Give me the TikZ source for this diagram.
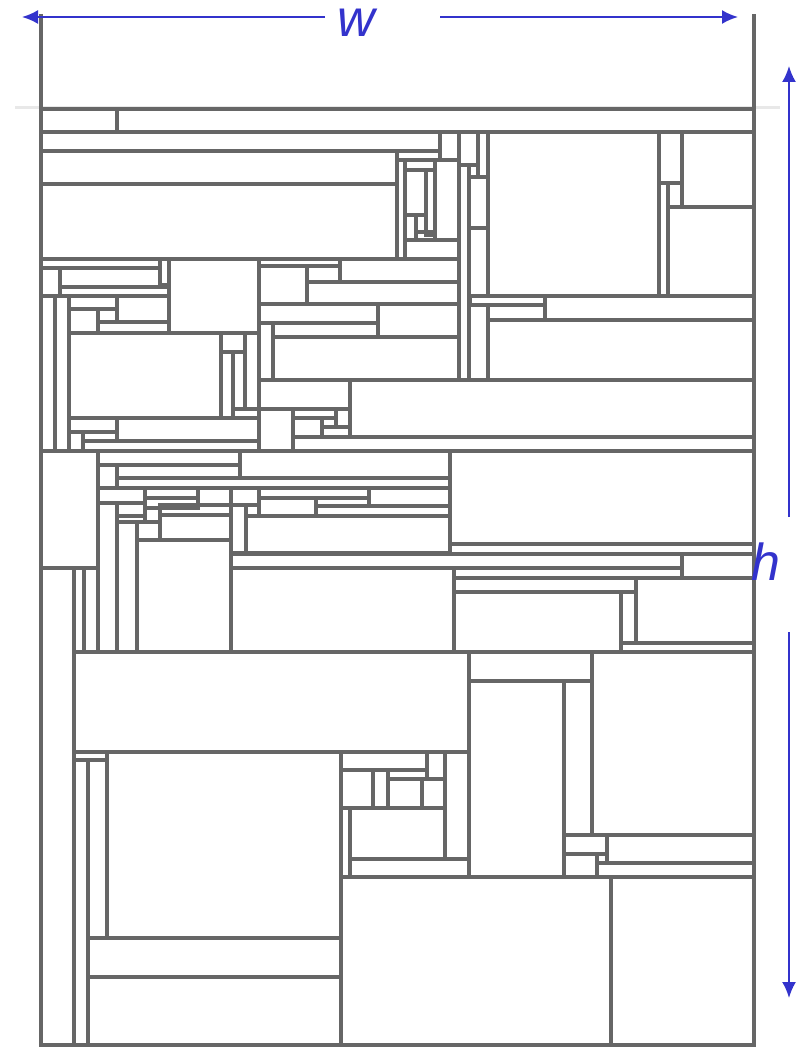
\documentclass[tikz,border=0pt]{standalone}
\usepackage{fontspec}
\setmainfont{Liberation Sans}
\usetikzlibrary{arrows.meta}
\definecolor{packgray}{HTML}{666666}
\definecolor{dimblue}{HTML}{3333CC}
\definecolor{guidegray}{HTML}{E8E8E8}

\begin{document}
\begin{tikzpicture}[x=0.5pt, y=-0.5pt,
  item/.style={draw=packgray, line width=2pt},
  strip/.style={draw=packgray, line width=2pt},
  guide/.style={draw=guidegray, line width=1.5pt},
  dimarrow/.style={-{Latex[length=8pt,width=7pt]}, draw=dimblue, line width=1pt},
  dimlabel/.style={text=dimblue, inner sep=0pt, font=\fontsize{26}{30}\selectfont\itshape}
]
\useasboundingbox (0,0) rectangle (803,1047);
% faint guide at the top of the packing
\draw[guide] (15,108) -- (780,108);
% packed items
\foreach \xa/\ya/\xb/\yb in {
  41/109/117/132, 117/109/754/132, 41/132/440/151, 41/151/397/184, 41/184/397/259,
  440/132/459/160, 397/151/440/160, 397/160/405/259, 405/160/435/170, 405/170/426/215,
  426/170/435/235, 405/215/416/240, 416/215/426/232, 416/232/435/240, 405/240/459/259,
  435/160/459/240, 459/132/478/165, 478/132/488/177, 459/165/469/380, 469/165/478/177,
  469/177/488/228, 469/228/488/296, 488/132/659/296, 659/132/682/183, 682/132/754/207,
  659/183/668/296, 668/183/682/207, 668/207/754/296, 470/296/545/305, 545/296/754/320,
  488/305/545/320, 469/305/488/380, 488/320/754/380}
  \draw[item] (\xa,\ya) rectangle (\xb,\yb);
\foreach \xa/\ya/\xb/\yb in {
  41/259/160/268, 160/259/169/285, 41/268/60/296, 60/268/160/287, 60/287/169/296,
  169/259/259/333, 41/296/55/451, 55/296/69/451, 69/296/117/309, 117/296/169/322,
  69/309/98/333, 98/322/169/333, 69/333/221/418, 221/333/245/352, 221/352/233/418,
  233/352/245/409, 245/333/259/409, 233/409/259/418, 69/418/117/432, 117/418/259/441,
  69/432/83/451, 83/432/117/441, 83/441/259/451}
  \draw[item] (\xa,\ya) rectangle (\xb,\yb);
\foreach \xa/\ya/\xb/\yb in {
  259/259/340/266, 259/266/307/304, 307/266/340/282, 340/259/459/282, 307/282/459/304,
  259/304/378/323, 378/304/459/337, 259/323/273/380, 273/323/378/337, 273/337/459/380,
  259/380/350/409, 350/380/754/437, 259/409/293/451, 293/409/336/418, 336/409/350/427,
  293/418/322/437, 322/418/336/427, 322/427/350/437, 293/437/754/451}
  \draw[item] (\xa,\ya) rectangle (\xb,\yb);
\foreach \xa/\ya/\xb/\yb in {
  41/451/98/568, 98/451/240/465, 240/451/450/478, 98/465/117/488, 117/465/240/478,
  117/478/450/488, 98/488/145/503, 145/488/198/498, 198/488/231/505, 231/488/259/505,
  259/488/369/498, 369/488/450/506, 145/498/198/508, 259/498/316/516, 316/506/450/516,
  117/503/145/516, 145/508/160/522, 117/516/145/522, 160/505/231/515, 160/515/231/540,
  98/503/117/652, 117/522/137/652, 137/540/231/652, 231/505/246/553, 246/516/450/553,
  450/451/754/544, 450/544/754/554, 231/554/682/568, 682/554/754/578, 41/568/74/1045,
  74/568/84/652, 84/568/98/652, 231/568/454/652, 454/568/682/578, 454/578/636/592,
  454/592/621/652, 621/592/636/643, 636/578/754/643, 621/643/754/652}
  \draw[item] (\xa,\ya) rectangle (\xb,\yb);
\foreach \xa/\ya/\xb/\yb in {
  74/652/469/752, 469/652/592/681, 592/652/754/835, 469/681/564/877, 564/681/592/835,
  564/835/607/854, 607/835/754/863, 597/854/607/863, 564/854/597/877, 597/863/754/877,
  74/752/107/760, 74/760/88/1045, 88/760/107/938, 107/752/341/938, 88/938/341/977,
  88/977/341/1045, 341/752/427/770, 427/752/445/779, 445/752/469/859, 341/770/373/808,
  373/770/388/808, 388/770/427/779, 388/779/422/808, 422/779/445/808, 341/808/350/877,
  350/808/445/859, 350/859/469/877, 341/877/611/1045, 611/877/754/1045}
  \draw[item] (\xa,\ya) rectangle (\xb,\yb);
% strip walls
\draw[strip] (41,14) -- (41,1045) -- (754,1045) -- (754,14);
% dimensions
\node[dimlabel] (wlab) at (356,23) {w};
\node[dimlabel] (hlab) at (766,562) {h};
\coordinate (wl) at (325,17);
\coordinate (wltip) at (22,17);
\coordinate (wr) at (440,17);
\coordinate (wrtip) at (738,17);
\coordinate (hu) at (789,517);
\coordinate (hutip) at (789,66);
\coordinate (hd) at (789,632);
\coordinate (hdtip) at (789,998);
\draw[dimarrow] (wl) -- (wltip);
\draw[dimarrow] (wr) -- (wrtip);
\draw[dimarrow] (hu) -- (hutip);
\draw[dimarrow] (hd) -- (hdtip);
\end{tikzpicture}
\end{document}
